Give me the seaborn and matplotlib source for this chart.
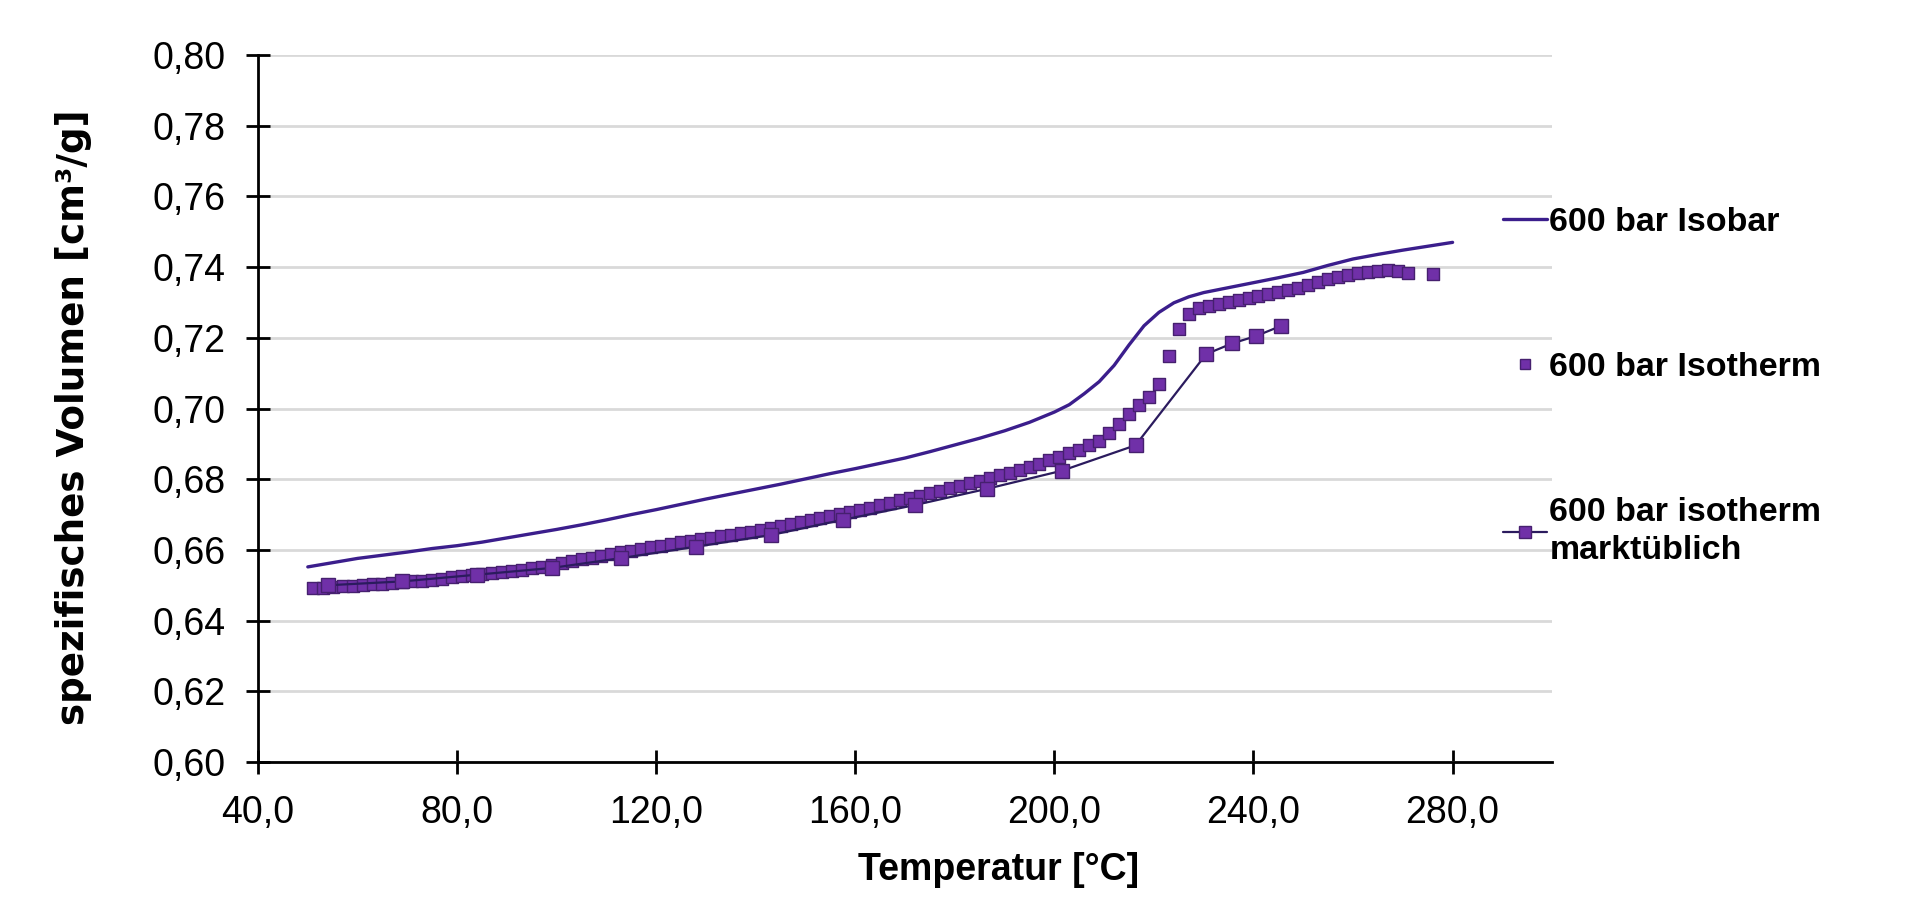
import matplotlib
matplotlib.use("Agg")
import matplotlib.pyplot as plt
import seaborn as sns
import pandas as pd
from matplotlib.ticker import FuncFormatter, MultipleLocator
from matplotlib.lines import Line2D

# ---------------------------
# Data
# ---------------------------
isobar_temp = [50, 55, 60, 65, 70, 75, 80, 85, 90, 95, 100, 105, 110, 115, 120,
               125, 130, 135, 140, 145, 150, 155, 160, 165, 170, 175, 180, 185,
               190, 195, 200, 203, 206, 209, 212, 215, 218, 221, 224, 227, 230,
               235, 240, 245, 250, 255, 260, 265, 270, 275, 280]
isobar_vol = [0.6552, 0.6564, 0.6576, 0.6585, 0.6594, 0.6604, 0.6612, 0.6622,
              0.6634, 0.6646, 0.6658, 0.6671, 0.6685, 0.6700, 0.6714, 0.6729,
              0.6744, 0.6758, 0.6772, 0.6786, 0.6801, 0.6816, 0.6830, 0.6845,
              0.6860, 0.6878, 0.6897, 0.6916, 0.6937, 0.6961, 0.6990, 0.7011,
              0.7042, 0.7076, 0.7122, 0.7180, 0.7234, 0.7272, 0.7299, 0.7316,
              0.7328, 0.7342, 0.7356, 0.7370, 0.7385, 0.7405, 0.7423, 0.7436,
              0.7448, 0.7459, 0.7470]

isotherm_temp = [51, 53, 55, 57, 59, 61, 63, 65, 67, 69, 71, 73, 75, 77, 79, 81,
                 83, 85, 87, 89, 91, 93, 95, 97, 99, 101, 103, 105, 107, 109, 111,
                 113, 115, 117, 119, 121, 123, 125, 127, 129, 131, 133, 135, 137,
                 139, 141, 143, 145, 147, 149, 151, 153, 155, 157, 159, 161, 163,
                 165, 167, 169, 171, 173, 175, 177, 179, 181, 183, 185, 187, 189,
                 191, 193, 195, 197, 199, 201, 203, 205, 207, 209, 211, 213, 215,
                 217, 219, 221, 223, 225, 227, 229, 231, 233, 235, 237, 239, 241,
                 243, 245, 247, 249, 251, 253, 255, 257, 259, 261, 263, 265, 267,
                 269, 271, 276]
isotherm_vol = [0.6492, 0.6493, 0.6495, 0.6497, 0.6499, 0.6501, 0.6503, 0.6505,
                0.6507, 0.6509, 0.6511, 0.6513, 0.6516, 0.6519, 0.6522, 0.6525,
                0.6528, 0.6531, 0.6534, 0.6537, 0.6540, 0.6544, 0.6548, 0.6553,
                0.6558, 0.6563, 0.6568, 0.6573, 0.6578, 0.6583, 0.6588, 0.6593,
                0.6597, 0.6602, 0.6607, 0.6612, 0.6616, 0.6621, 0.6625, 0.6630,
                0.6634, 0.6639, 0.6643, 0.6648, 0.6652, 0.6657, 0.6662, 0.6667,
                0.6673, 0.6678, 0.6684, 0.6690, 0.6696, 0.6702, 0.6708, 0.6714,
                0.6720, 0.6727, 0.6733, 0.6740, 0.6746, 0.6753, 0.6760, 0.6767,
                0.6774, 0.6781, 0.6788, 0.6796, 0.6803, 0.6811, 0.6818, 0.6826,
                0.6835, 0.6844, 0.6853, 0.6863, 0.6873, 0.6884, 0.6896, 0.6908,
                0.6930, 0.6955, 0.6984, 0.7011, 0.7034, 0.7068, 0.7149, 0.7224,
                0.7266, 0.7284, 0.7291, 0.7296, 0.7302, 0.7308, 0.7313, 0.7318,
                0.7323, 0.7329, 0.7335, 0.7342, 0.7350, 0.7358, 0.7365, 0.7372,
                0.7378, 0.7383, 0.7387, 0.7390, 0.7391, 0.7389, 0.7384, 0.7380]

markt_temp = [54, 69, 84, 99, 113, 128, 143, 157.5, 172, 186.5, 201.5, 216.3,
              230.5, 235.7, 240.5, 245.6]
markt_vol = [0.6500, 0.6511, 0.6530, 0.6549, 0.6577, 0.6609, 0.6642, 0.6685,
             0.6727, 0.6773, 0.6824, 0.6896, 0.7154, 0.7184, 0.7205, 0.7234]

labels = ["600 bar Isobar", "600 bar Isotherm", "600 bar isotherm\nmarktüblich"]
x_ticks = [40, 80, 120, 160, 200, 240, 280]

# colours
ISOBAR_COLOR = "#3B1E8C"
SQ_FACE = "#7030A8"
SQ_EDGE = "#46206F"
MARKT_LINE = "#2B1B5E"

df_isobar = pd.DataFrame({"T": isobar_temp, "V": isobar_vol})
df_iso = pd.DataFrame({"T": isotherm_temp, "V": isotherm_vol})
df_markt = pd.DataFrame({"T": markt_temp, "V": markt_vol})

# ---------------------------
# Plot
# ---------------------------
sns.set_style("white")
plt.rcParams['font.family'] = ['Liberation Sans', 'DejaVu Sans']
plt.rcParams['text.color'] = 'black'
plt.rcParams['axes.labelcolor'] = 'black'
plt.rcParams['xtick.color'] = 'black'
plt.rcParams['ytick.color'] = 'black'

fig = plt.figure(figsize=(19.2, 9.23), dpi=100)
ax = fig.add_axes([0.1344, 0.1744, 0.674, 0.766])

sns.lineplot(data=df_isobar, x="T", y="V", ax=ax, color=ISOBAR_COLOR,
             linewidth=2.4, zorder=3)
sns.scatterplot(data=df_iso, x="T", y="V", ax=ax, marker="s", s=78,
                color=SQ_FACE, edgecolor=SQ_EDGE, linewidth=1.0, zorder=4)
sns.lineplot(data=df_markt, x="T", y="V", ax=ax, color=MARKT_LINE,
             linewidth=1.6, marker="s", markersize=9.5,
             markerfacecolor=SQ_FACE, markeredgecolor=SQ_EDGE,
             markeredgewidth=1.0, zorder=5)

ax.set_xlim(40, 300)
ax.set_ylim(0.60, 0.80)
ax.set_xticks(x_ticks)
ax.yaxis.set_major_locator(MultipleLocator(0.02))
ax.xaxis.set_major_formatter(FuncFormatter(lambda v, p: f"{v:.1f}".replace(".", ",")))
ax.yaxis.set_major_formatter(FuncFormatter(lambda v, p: f"{v:.2f}".replace(".", ",")))

ax.yaxis.grid(True, color="#D9D9D9", linewidth=2)
ax.xaxis.grid(False)
ax.set_axisbelow(True)
for side in ["top", "right"]:
    ax.spines[side].set_visible(False)
for side in ["left", "bottom"]:
    ax.spines[side].set_color("black")
    ax.spines[side].set_linewidth(2)

ax.tick_params(axis="both", direction="inout", length=17, width=2,
               color="black", labelcolor="black", labelsize=27, pad=15,
               left=True, bottom=True)

ax.set_xlabel("Temperatur [°C]", fontsize=27, fontweight="bold")
ax.xaxis.set_label_coords(0.572, -0.127)
ax.set_ylabel("spezifisches Volumen [cm³/g]", fontsize=26.8, fontweight="bold",
              family=["DejaVu Sans"])
ax.yaxis.set_label_coords(-0.128, 0.488)

handles = [
    Line2D([], [], color=ISOBAR_COLOR, linewidth=2.4),
    Line2D([], [], linestyle="none", marker="s", markersize=7,
           markerfacecolor=SQ_FACE, markeredgecolor=SQ_EDGE),
    Line2D([], [], color=MARKT_LINE, linewidth=1.6, marker="s", markersize=9,
           markerfacecolor=SQ_FACE, markeredgecolor=SQ_EDGE),
]
leg = fig.legend(handles, labels, loc="upper left",
                 bbox_to_anchor=(1503 / 1920, 1 - 207 / 923),
                 frameon=False, prop={"weight": "bold", "size": 24.5},
                 handlelength=1.28, handletextpad=0.08, labelspacing=3.35,
                 borderpad=0, borderaxespad=0)
for txt in leg.get_texts():
    txt.set_linespacing(1.3)

fig.savefig("out.png", dpi=100)
